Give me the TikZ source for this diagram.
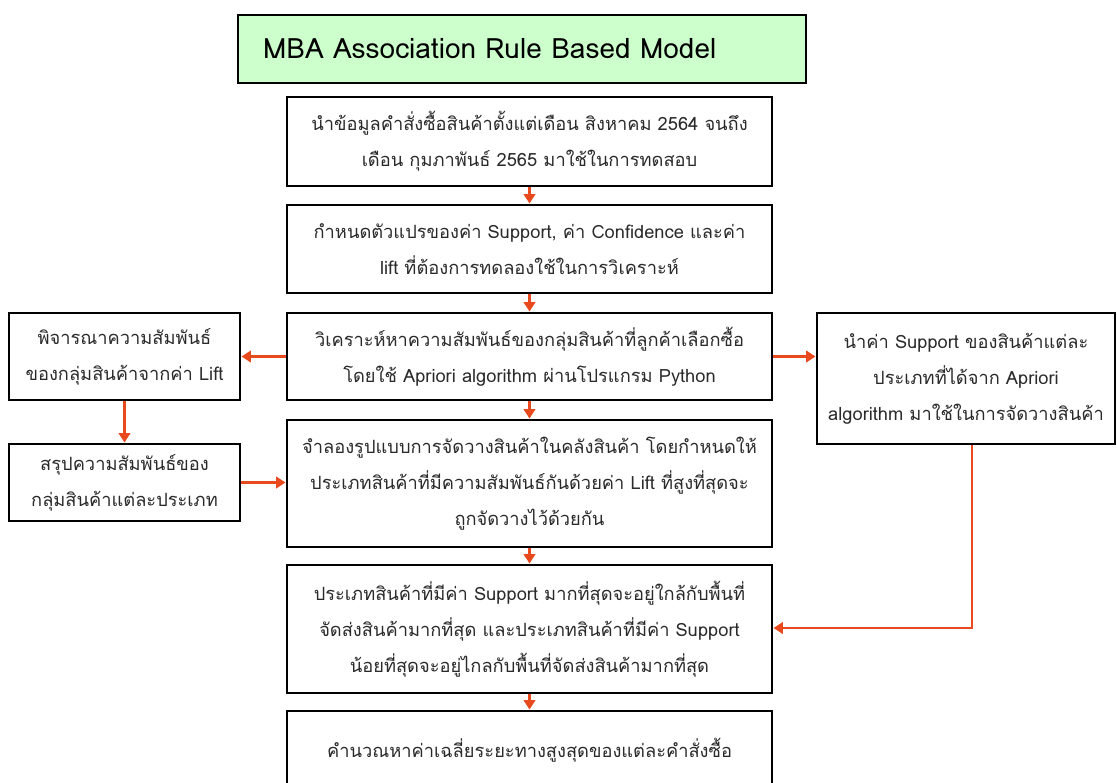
\documentclass[tikz,border=0pt]{standalone}
\usepackage{fontspec}
\setmainfont[Script=Thai]{Loma}
\usetikzlibrary{arrows.meta}
\definecolor{arr}{HTML}{E8491D}
\definecolor{ttl}{HTML}{CCFFCC}
\definecolor{txt}{HTML}{2A2A2A}
\begin{document}
\begin{tikzpicture}[x=0.75pt,y=-0.75pt,
  box/.style={draw=black,line width=2.2pt,fill=white,align=center,text=txt,
    font=\fontsize{13.7}{27}\selectfont,inner sep=0pt},
  link/.style={draw=arr,line width=2.2pt,-{Triangle[length=7pt,width=8.5pt]}},
  line/.style={draw=arr,line width=2.2pt}]
\useasboundingbox (0,0) rectangle (1117,782);
\node[box,fill=ttl,text=black,font=\fontsize{21}{27}\selectfont,minimum width=426pt,minimum height=51pt,text width=388.5pt,inner xsep=18.75pt,align=left] (title) at (522,49) {MBA Association Rule Based Model};
\node[box,minimum width=363.75pt,minimum height=66.75pt] (b1) at (529.5,141.5) {นำข้อมูลคำสั่งซื้อสินค้าตั้งแต่เดือน สิงหาคม 2564 จนถึง\\เดือน กุมภาพันธ์ 2565 มาใช้ในการทดสอบ};
\node[box,minimum width=363.75pt,minimum height=66pt] (b2) at (529.5,249) {กำหนดตัวแปรของค่า Support, ค่า Confidence และค่า\\lift ที่ต้องการทดลองใช้ในการวิเคราะห์};
\node[box,minimum width=363.75pt,minimum height=65.25pt] (b3) at (529.5,356.5) {วิเคราะห์หาความสัมพันธ์ของกลุ่มสินค้าที่ลูกค้าเลือกซื้อ\\โดยใช้ Apriori algorithm ผ่านโปรแกรม Python};
\node[box,minimum width=363.75pt,minimum height=95.25pt] (b4) at (529.5,483.5) {จำลองรูปแบบการจัดวางสินค้าในคลังสินค้า โดยกำหนดให้\\ประเภทสินค้าที่มีความสัมพันธ์กันด้วยค่า Lift ที่สูงที่สุดจะ\\ถูกจัดวางไว้ด้วยกัน};
\node[box,minimum width=363.75pt,minimum height=96pt] (b5) at (529.5,629) {ประเภทสินค้าที่มีค่า Support มากที่สุดจะอยู่ใกล้กับพื้นที่\\จัดส่งสินค้ามากที่สุด และประเภทสินค้าที่มีค่า Support\\น้อยที่สุดจะอยู่ไกลกับพื้นที่จัดส่งสินค้ามากที่สุด};
\node[box,minimum width=363.75pt,minimum height=58.5pt] (b6) at (529.5,750) {คำนวณหาค่าเฉลี่ยระยะทางสูงสุดของแต่ละคำสั่งซื้อ};
\node[box,minimum width=173.25pt,minimum height=65.25pt] (l1) at (124.5,356.5) {พิจารณาความสัมพันธ์\\ของกลุ่มสินค้าจากค่า Lift};
\node[box,minimum width=173.25pt,minimum height=57.75pt] (l2) at (124.5,482.5) {สรุปความสัมพันธ์ของ\\กลุ่มสินค้าแต่ละประเภท};
\node[box,minimum width=223.5pt,minimum height=98.25pt] (r1) at (966,378.5) {นำค่า Support ของสินค้าแต่ละ\\ประเภทที่ได้จาก Apriori\\algorithm มาใช้ในการจัดวางสินค้า};
\coordinate (rc) at (972,628);
\draw[link] (b1) -- (b2);
\draw[link] (b2) -- (b3);
\draw[link] (b3) -- (b4);
\draw[link] (b4) -- (b5);
\draw[link] (b5) -- (b6);
\draw[link] (b3.west) -- (l1.east);
\draw[link] (b3.east) -- (r1.west |- b3.east);
\draw[link] (l1) -- (l2);
\draw[link] (l2.east) -- (b4.west |- l2.east);
\draw[link] (r1.south -| rc) -- (rc) -- (b5.east |- rc);
\end{tikzpicture}
\end{document}
